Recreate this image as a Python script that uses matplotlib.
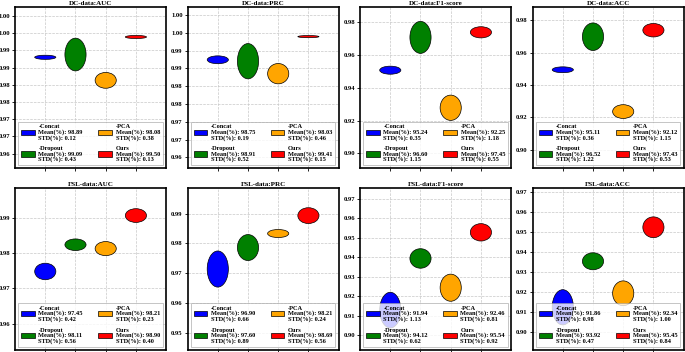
## Ellipse comparison of methods on DC / FSL data
import matplotlib
matplotlib.use('Agg')
import matplotlib.pyplot as plt
from matplotlib.patches import Ellipse
import numpy as np

plt.rcParams['font.family'] = 'Liberation Serif'
plt.rcParams['font.weight'] = 'bold'

## data
methods = ['-Concat', '-Dropout', '-PCA', 'Ours']
colors = ['blue', 'green', 'orange', 'red']

titles = ['DC-data:AUC', 'DC-data:PRC', 'DC-data:F1-score', 'DC-data:ACC',
          'FSL-data:AUC', 'FSL-data:PRC', 'FSL-data:F1-score', 'FSL-data:ACC']

# legend values (%)
dc_auc_mean = [98.89, 99.09, 98.08, 99.50]
dc_auc_std = [0.12, 0.43, 0.38, 0.13]
dc_prc_mean = [98.75, 98.91, 98.03, 99.41]
dc_prc_std = [0.19, 0.52, 0.46, 0.15]
dc_f1_mean = [95.24, 96.60, 92.25, 97.45]
dc_f1_std = [0.35, 1.15, 1.18, 0.55]
dc_acc_mean = [95.11, 96.52, 92.12, 97.43]
dc_acc_std = [0.36, 1.22, 1.15, 0.53]
fsl_auc_mean = [97.45, 98.11, 98.21, 98.90]
fsl_auc_std = [0.42, 0.56, 0.23, 0.40]
fsl_prc_mean = [96.90, 97.60, 98.21, 98.69]
fsl_prc_std = [0.66, 0.89, 0.24, 0.56]
fsl_f1_mean = [91.94, 94.12, 92.46, 95.54]
fsl_f1_std = [1.13, 0.62, 0.81, 0.92]
fsl_acc_mean = [91.86, 93.92, 92.34, 95.45]
fsl_acc_std = [0.98, 0.47, 1.00, 0.84]

# ellipse centres / heights as drawn
dc_auc_y = [0.9930, 0.9938, 0.9863, 0.9989]
dc_auc_h = [0.0012, 0.0095, 0.0046, 0.0009]
dc_prc_y = [0.9924, 0.9920, 0.9885, 0.9989]
dc_prc_h = [0.0022, 0.0099, 0.0057, 0.0006]
dc_f1_y = [0.9507, 0.9707, 0.9278, 0.9738]
dc_f1_h = [0.0049, 0.0195, 0.0154, 0.0068]
dc_acc_y = [0.9494, 0.9698, 0.9236, 0.9738]
dc_acc_h = [0.0036, 0.0170, 0.0085, 0.0083]
fsl_auc_y = [0.9748, 0.9824, 0.9813, 0.9907]
fsl_auc_h = [0.0047, 0.0033, 0.0040, 0.0039]
fsl_prc_y = [0.9714, 0.9786, 0.9833, 0.9893]
fsl_prc_h = [0.0121, 0.0087, 0.0027, 0.0053]
fsl_f1_y = [0.9128, 0.9393, 0.9243, 0.9527]
fsl_f1_h = [0.0183, 0.0100, 0.0139, 0.0089]
fsl_acc_y = [0.9126, 0.9356, 0.9196, 0.9526]
fsl_acc_h = [0.0176, 0.0085, 0.0124, 0.0104]

# y ticks
dc_fine_ticks = [0.965, 0.970, 0.975, 0.980, 0.985, 0.990, 0.995, 1.000, 1.005]
dc_fine_labels = ['0.96', '0.97', '0.97', '0.98', '0.98', '0.99', '0.99', '1.00', '1.00']
dc_coarse_ticks = [0.90, 0.92, 0.94, 0.96, 0.98]
fsl_auc_ticks = [0.96, 0.97, 0.98, 0.99]
fsl_prc_ticks = [0.95, 0.96, 0.97, 0.98, 0.99]
fsl_score_ticks = [0.90, 0.91, 0.92, 0.93, 0.94, 0.95, 0.96, 0.97]

means = [dc_auc_mean, dc_prc_mean, dc_f1_mean, dc_acc_mean,
         fsl_auc_mean, fsl_prc_mean, fsl_f1_mean, fsl_acc_mean]
stds = [dc_auc_std, dc_prc_std, dc_f1_std, dc_acc_std,
        fsl_auc_std, fsl_prc_std, fsl_f1_std, fsl_acc_std]
centers = [dc_auc_y, dc_prc_y, dc_f1_y, dc_acc_y,
           fsl_auc_y, fsl_prc_y, fsl_f1_y, fsl_acc_y]
heights = [dc_auc_h, dc_prc_h, dc_f1_h, dc_acc_h,
           fsl_auc_h, fsl_prc_h, fsl_f1_h, fsl_acc_h]
yticks = [dc_fine_ticks, dc_fine_ticks, dc_coarse_ticks, dc_coarse_ticks,
          fsl_auc_ticks, fsl_prc_ticks, fsl_score_ticks, fsl_score_ticks]
ylims = [(0.9607, 1.0076), (0.9619, 1.0072), (0.8908, 0.9892), (0.8885, 0.9881),
         (0.9525, 0.9984), (0.9443, 0.9984), (0.8924, 0.9752), (0.8913, 0.9720)]

xpos = [1, 2, 3, 4]
ell_w = 0.7

## plot
fig, axes = plt.subplots(2, 4, figsize=(6.85, 3.52), dpi=100)
fig.subplots_adjust(left=0.022, right=0.998, top=0.98, bottom=0.006,
                    wspace=0.142, hspace=0.124)

for k, ax in enumerate(axes.flat):
    handles = []
    for i in range(4):
        e = Ellipse((xpos[i], centers[k][i]), ell_w, heights[k][i],
                    facecolor=colors[i], edgecolor='black', linewidth=0.5, zorder=3)
        ax.add_patch(e)
        handles.append(e)
    labels = ['%s\nMean(%%): %.2f\nSTD(%%): %.2f' % (methods[i], means[k][i], stds[k][i])
              for i in range(4)]
    ax.set_xlim(0, 5)
    ax.set_ylim(ylims[k])
    ax.set_xticks(xpos)
    ax.set_xticklabels([])
    ax.set_yticks(yticks[k])
    if k < 2:
        ax.set_yticklabels(dc_fine_labels)
    else:
        ax.set_yticklabels(['%.2f' % t for t in yticks[k]])
    ax.tick_params(labelsize=4.8, length=2, width=0.6, pad=1.5)
    ax.grid(True, linestyle='--', linewidth=0.5, color='#c8c8c8')
    ax.set_axisbelow(True)
    for s in ax.spines.values():
        s.set_linewidth(1.2)
    ax.set_title(titles[k], fontsize=5, fontweight='bold', pad=1.5)
    leg = ax.legend(handles, labels, ncol=2, loc='lower left', mode='expand',
                    bbox_to_anchor=(0, 0, 1, 1), fontsize=4.6, handlelength=2.1,
                    handleheight=0.9, handletextpad=0.6, labelspacing=0.9,
                    borderpad=0.45, framealpha=0.8, fancybox=False, edgecolor='0.6')
    for t in leg.get_texts():
        t.set_linespacing(0.95)
    leg.get_frame().set_linewidth(0.5)
    leg.set_zorder(5)

fig.savefig('out.png', dpi=100)
